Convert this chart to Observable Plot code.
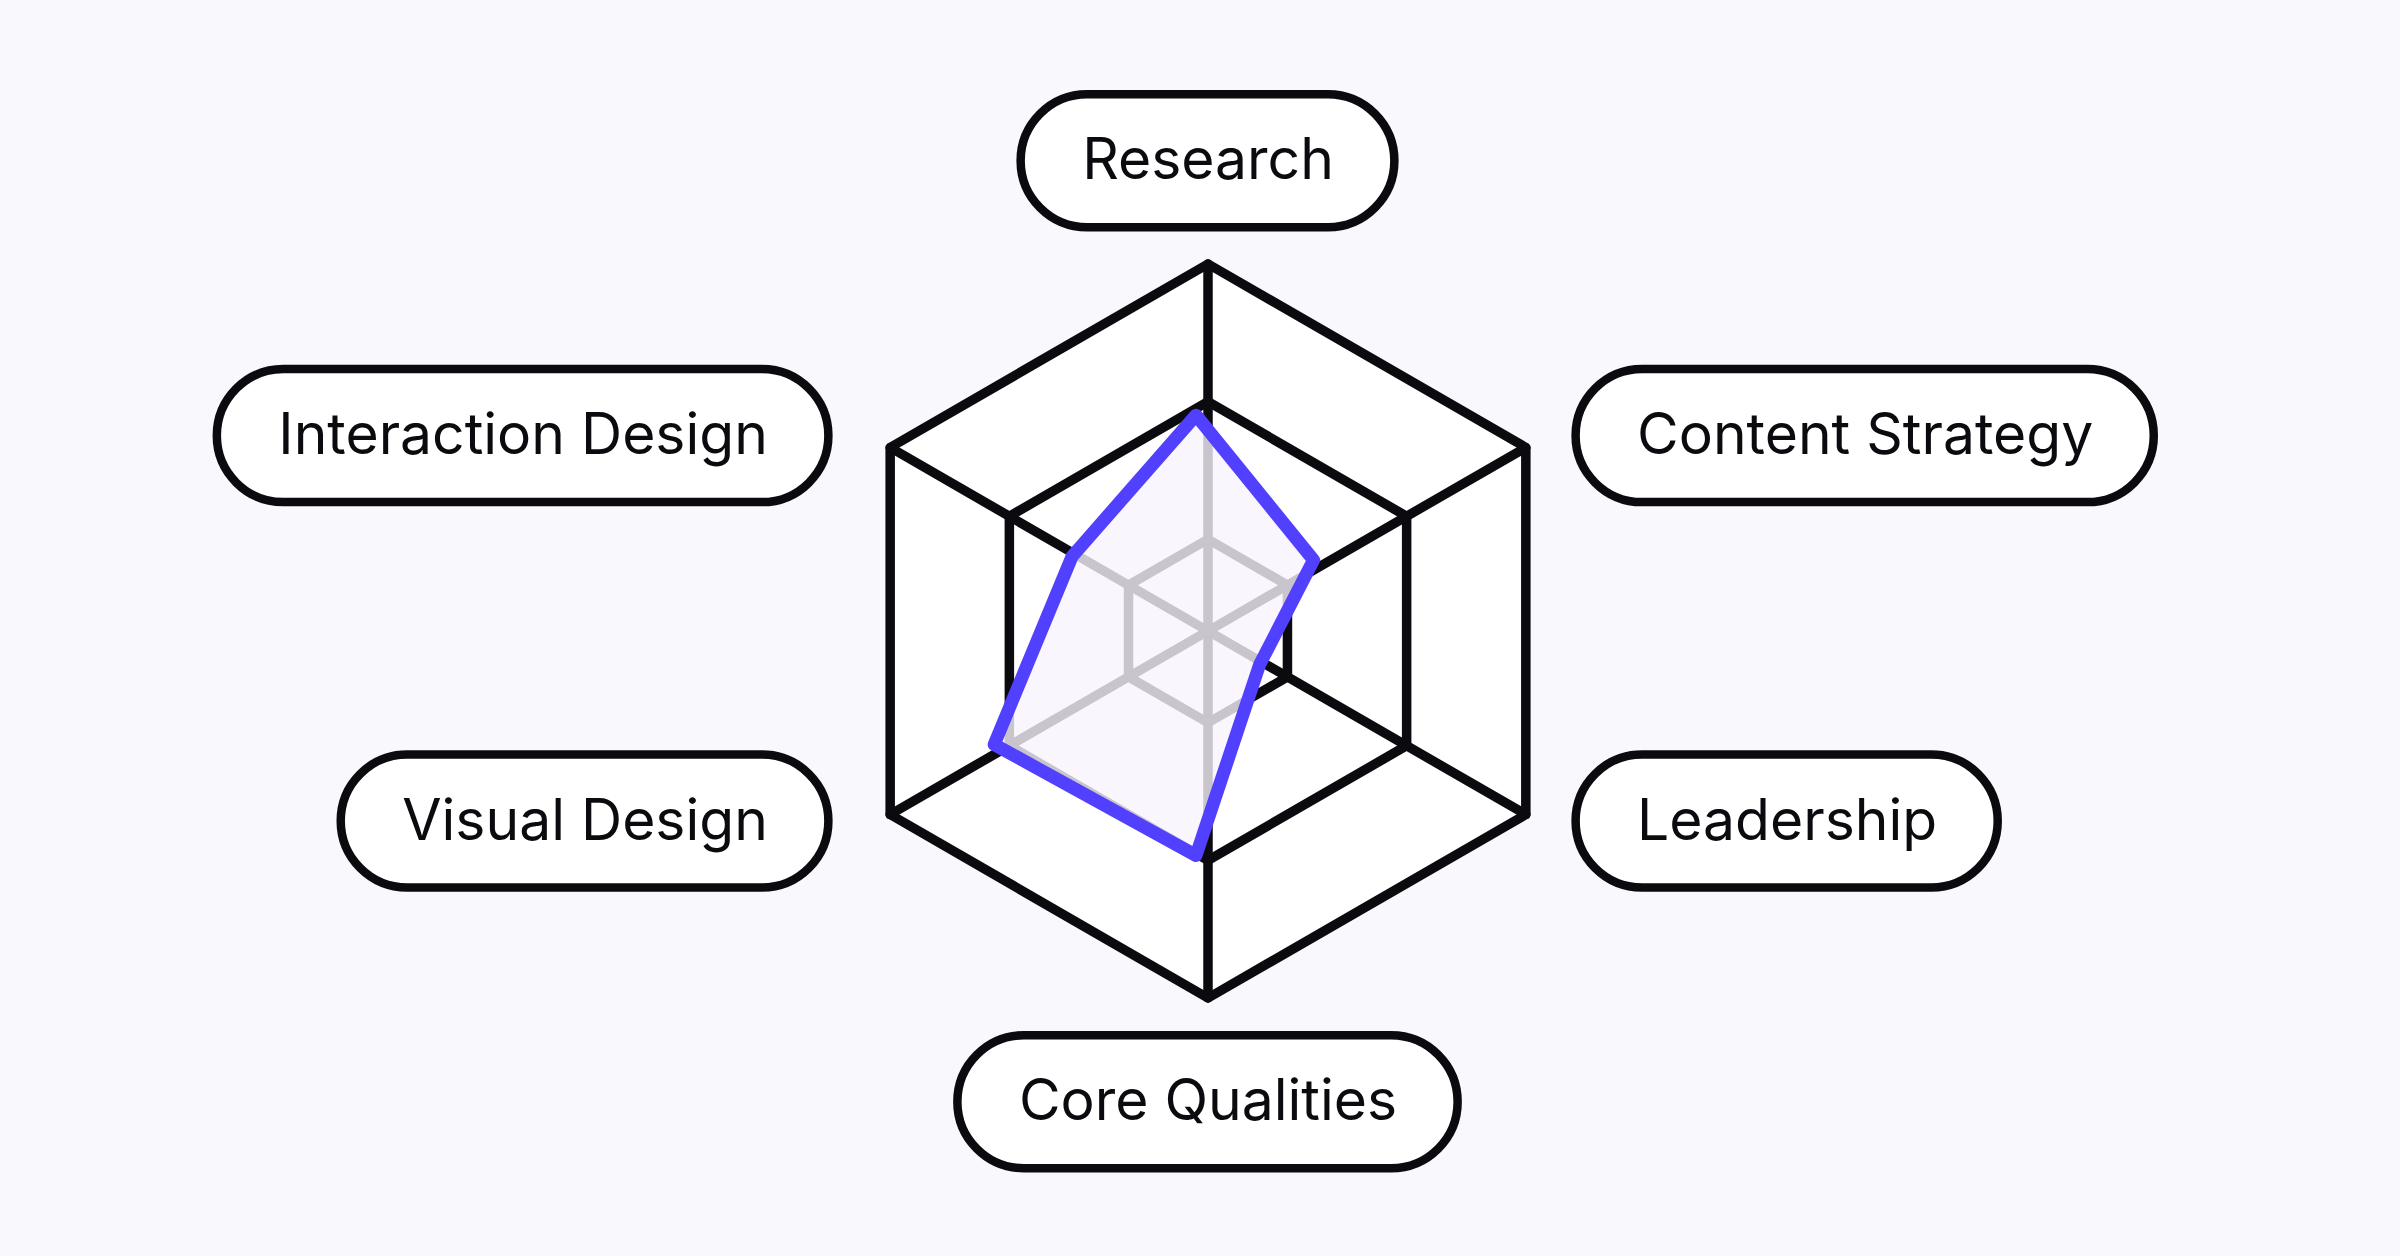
<!DOCTYPE html>
<html><head><meta charset="utf-8">
<script src="https://cdn.jsdelivr.net/npm/d3@7"></script>
<script src="https://cdn.jsdelivr.net/npm/@observablehq/plot@0.6"></script>
<style>
html,body{margin:0;padding:0;background:#f9f8fc;}
#chart{width:2400px;height:1256px;}
</style></head><body><div id="chart"></div>
<script>
// ---- data ----
const axes = ["Research", "Content Strategy", "Leadership", "Core Qualities", "Visual Design", "Interaction Design"];
const scores = [58, 37, 20, 62, 63.5, 39];
const ringLevels = [25, 62.5, 100];
const maxValue = 100;

// ---- layout ----
const W = 2400, H = 1256;
const cx = 1207.5, cy = 630.5, R = 367;
const k = R / maxValue; // px per value unit
const xDomain = [-cx / k, (W - cx) / k];
const yDomain = [-(H - cy) / k, cy / k];

const angleOf = i => Math.PI / 2 - i * 2 * Math.PI / axes.length;
const polar = (v, i) => ({x: v * Math.cos(angleOf(i)), y: v * Math.sin(angleOf(i))});

const ringPts = ringLevels.flatMap(l => axes.map((a, i) => ({ring: l, ...polar(l, i)})));
const outerPts = axes.map((a, i) => polar(maxValue, i));
const spokes = axes.map((a, i) => { const p = polar(maxValue, i); return {x1: 0, y1: 0, x2: p.x, y2: p.y}; });
const scorePts = scores.map((v, i) => ({axis: axes[i], value: v, ...polar(v, i)}));

const fontSize = 57;
const ctx = document.createElement("canvas").getContext("2d");
ctx.font = `400 ${fontSize}px Inter`;
const padX = 61 / k, pillH = 133 / k;
const labels = axes.map((a, i) => {
  const ang = angleOf(i), c = Math.cos(ang), s = Math.sin(ang);
  const w = ctx.measureText(a).width / k + 2 * padX;
  let xc, yc;
  if (Math.abs(c) < 0.01) { xc = 0; yc = s > 0 ? 128 : -128.4; }
  else { const edge = c > 0 ? 100.3 : 103.3; xc = Math.sign(c) * (edge + w / 2); yc = s * 105 + 0.6; }
  return {label: a, x: xc, y: yc, x1: xc - w / 2, x2: xc + w / 2, y1: yc - pillH / 2, y2: yc + pillH / 2};
});

const ink = "#0b0a0f";
const plot = Plot.plot({
  width: W, height: H, margin: 0,
  x: {domain: xDomain, axis: null},
  y: {domain: yDomain, axis: null},
  style: {background: "transparent"},
  marks: [
    Plot.line(outerPts, {x: "x", y: "y", curve: "linear-closed", fill: "white", stroke: "none"}),
    Plot.link(spokes, {x1: "x1", y1: "y1", x2: "x2", y2: "y2", stroke: ink, strokeWidth: 9.5, strokeLinecap: "round"}),
    Plot.line(ringPts, {x: "x", y: "y", z: "ring", curve: "linear-closed", stroke: ink, strokeWidth: 9.5, strokeLinejoin: "round"}),
    Plot.line(scorePts, {x: "x", y: "y", curve: "linear-closed", fill: "#f8f4fd", fillOpacity: 0.8,
      stroke: "#5240ff", strokeWidth: 13, strokeLinejoin: "round", dx: -12, dy: -3}),
    Plot.rect(labels, {x1: "x1", x2: "x2", y1: "y1", y2: "y2", fill: "white", stroke: ink, strokeWidth: 8.5, rx: 66.5}),
    Plot.text(labels, {x: "x", y: "y", text: "label", fontSize: fontSize, fontFamily: "Inter", fill: ink})
  ]
});
document.getElementById("chart").appendChild(plot);
</script>
</body></html>
